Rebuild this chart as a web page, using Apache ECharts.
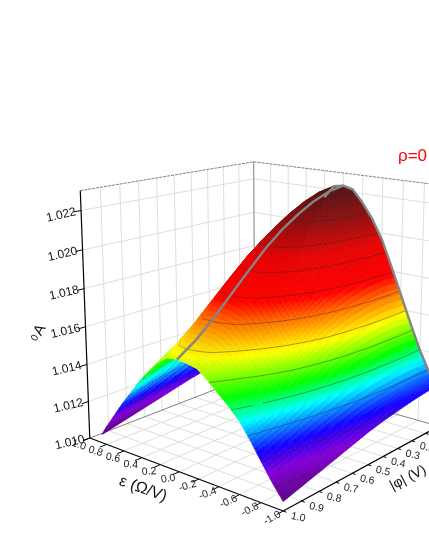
<!DOCTYPE html>
<html><head><meta charset="utf-8">
<style>html,body{margin:0;padding:0;background:#fff}#c{width:429px;height:555px}</style>
<script src="https://cdn.jsdelivr.net/npm/echarts@6/dist/echarts.min.js"></script>
</head><body><div id="c"></div>
<script>
// ---------- data ----------
const epsNodes=[0.85,0.8,0.6,0.4,0.2,0.1,0,-0.1,-0.2,-0.3,-0.4,-0.5,-0.6,-0.7,-0.8,-0.9,-1];
const phiNodes=[0,0.1,0.2,0.3,0.4,0.5,0.6,0.7,0.8,0.9,1];
const zPhi00=[1.01235,1.01325,1.01633,1.01912,1.0215,1.0222,1.0223,1.02215,1.0215,1.02071,1.01968,1.01828,1.01683,1.01536,1.01396,1.0128,1.01235];
const zPhi01=[1.0123,1.01319,1.01624,1.019,1.02136,1.02205,1.02215,1.02201,1.02141,1.02062,1.01962,1.01828,1.01689,1.01544,1.01403,1.01284,1.0123];
const zPhi02=[1.0122,1.01306,1.01604,1.01873,1.02103,1.0217,1.0218,1.02167,1.02113,1.02036,1.0194,1.01814,1.01682,1.01541,1.01402,1.01281,1.0122];
const zPhi03=[1.01205,1.01288,1.01575,1.01834,1.02056,1.02121,1.0213,1.02118,1.0207,1.01996,1.01904,1.01788,1.01665,1.01529,1.01393,1.01273,1.01205];
const zPhi04=[1.0119,1.01269,1.01542,1.01788,1.02,1.02061,1.0207,1.02059,1.02017,1.01947,1.01861,1.01755,1.01641,1.01512,1.01381,1.01263,1.0119];
const zPhi05=[1.0117,1.01244,1.015,1.01731,1.01929,1.01987,1.01995,1.01985,1.0195,1.01884,1.01804,1.01709,1.01606,1.01485,1.01361,1.01247,1.0117];
const zPhi06=[1.01145,1.01213,1.01449,1.01662,1.01844,1.01897,1.01905,1.01896,1.01867,1.01806,1.01734,1.0165,1.01558,1.01447,1.01331,1.01223,1.01145];
const zPhi07=[1.0112,1.01182,1.01396,1.01589,1.01755,1.01803,1.0181,1.01802,1.01779,1.01724,1.01659,1.01586,1.01506,1.01405,1.01299,1.01197,1.0112];
const zPhi08=[1.01095,1.01151,1.01343,1.01517,1.01665,1.01709,1.01715,1.01708,1.0169,1.01641,1.01583,1.01521,1.01451,1.01361,1.01264,1.0117,1.01095];
const zPhi09=[1.0107,1.0112,1.01294,1.01451,1.01585,1.01624,1.0163,1.01624,1.0161,1.01566,1.01515,1.01461,1.014,1.01319,1.0123,1.01143,1.0107];
const zPhi10=[1.01045,1.01092,1.01253,1.014,1.01524,1.01561,1.01566,1.01561,1.0155,1.01509,1.01462,1.01415,1.0136,1.01285,1.01201,1.01118,1.01045];
const zRows=[zPhi00,zPhi01,zPhi02,zPhi03,zPhi04,zPhi05,zPhi06,zPhi07,zPhi08,zPhi09,zPhi10];
const zTicks=[1.010,1.012,1.014,1.016,1.018,1.020,1.022];
const epsTicks=[1,0.8,0.6,0.4,0.2,0,-0.2,-0.4,-0.6,-0.8,-1];
const phiTicks=[1,0.9,0.8,0.7,0.6,0.5,0.4,0.3,0.2,0.1,0];
const contourLevels=[1.011,1.012,1.013,1.014,1.015,1.016,1.017,1.018,1.019,1.020,1.021,1.022];
const titleText='ρ=0', epsTitle='ε (Ω/V)', phiTitle='|φ| (V)';

// ---------- camera: solved from where the box corners fall in the picture ----------
const zMin=1.010,zMax=1.023;
const anchors=[[1,1,1.010,90,438.3],[1,1,1.023,80,190.7],[1,0,1.010,255,373],[1,0,1.023,253,162],
 [-1,1,1.010,284,510],[-1,0,1.010,438,428],[-1,0,1.023,445,185],[0,1,1.010,178,471],
 [-1,0.5,1.010,369,465],[1,0.5,1.023,175,175],[1,1,1.016,85,328],[0,0,1.023,345,173]];
const nz=z=>(z-1.0165)/0.0065;
function solveCamera(){
  const n=11,A=[...Array(n)].map(()=>Array(n+1).fill(0));
  const add=(r,b)=>{for(let i=0;i<n;i++){for(let j=0;j<n;j++)A[i][j]+=r[i]*r[j];A[i][n]+=r[i]*b;}};
  anchors.forEach(([e,p,z,u,v])=>{const Z=nz(z);
    add([e,p,Z,1,0,0,0,0,-u*e,-u*p,-u*Z],u);
    add([0,0,0,0,e,p,Z,1,-v*e,-v*p,-v*Z],v);});
  for(let c=0;c<n;c++){let m=c;for(let r=c+1;r<n;r++)if(Math.abs(A[r][c])>Math.abs(A[m][c]))m=r;
    [A[c],A[m]]=[A[m],A[c]];
    for(let r=0;r<n;r++)if(r!==c){const f=A[r][c]/A[c][c];for(let k=c;k<=n;k++)A[r][k]-=f*A[c][k];}}
  return A.map((R,i)=>R[n]/R[i]);
}
const P=solveCamera();
function project(e,p,z){const Z=nz(z),w=P[8]*e+P[9]*p+P[10]*Z+1;
  return [(P[0]*e+P[1]*p+P[2]*Z+P[3])/w,(P[4]*e+P[5]*p+P[6]*Z+P[7])/w];}

// ---------- colour ramp ----------
const ramp=[[1.0103,[90,0,120]],[1.0115,[130,0,215]],[1.0123,[20,0,255]],[1.0135,[0,255,255]],[1.0144,[0,255,0]],
 [1.0158,[255,255,0]],[1.0170,[255,110,0]],[1.0178,[255,0,0]],[1.0195,[230,5,5]],[1.0208,[150,15,15]],[1.0222,[85,20,20]]];
function colorOf(z){
  if(z<=ramp[0][0])return `rgb(${ramp[0][1]})`;
  for(let i=1;i<ramp.length;i++)if(z<=ramp[i][0]){const t=(z-ramp[i-1][0])/(ramp[i][0]-ramp[i-1][0]);
    const a=ramp[i-1][1],b=ramp[i][1];return `rgb(${a.map((x,k)=>Math.round(x+(b[k]-x)*t))})`;}
  return `rgb(${ramp[ramp.length-1][1]})`;
}

// ---------- drawing helpers ----------
const fontFam='"Liberation Sans",Arial,sans-serif';
const deg=Math.PI/180;
function seg(api,a,b,stroke,w,dash){
  const p=api.coord(project(...a)),q=api.coord(project(...b));
  return {type:'line',shape:{x1:p[0],y1:p[1],x2:q[0],y2:q[1]},style:{stroke,lineWidth:w,lineDash:dash||null}};
}
function label(api,pt,dx,dy,text,rot,size,fill){
  const c=api.coord(project(...pt));
  return {type:'text',x:c[0]+dx,y:c[1]+dy,rotation:rot*deg,
    style:{text,x:0,y:0,align:'center',verticalAlign:'middle',font:`${size}px ${fontFam}`,fill:fill||'#111'}};
}
function freeText(x,y,text,rot,size){
  return {type:'text',x,y,rotation:rot*deg,style:{text,x:0,y:0,align:'center',verticalAlign:'middle',font:`${size}px ${fontFam}`,fill:'#111'}};
}
function renderFrame(params,api){
  const L='#dedede',G='#808080',ch=[];
  phiTicks.forEach(p=>{ if(p>0&&p<1){ch.push(seg(api,[1,p,zMin],[1,p,zMax],L,1));
    ch.push(seg(api,[1,p,zMin],[-1,p,zMin],L,1));}});
  epsTicks.forEach(e=>{ if(e>-1&&e<1){ch.push(seg(api,[e,0,zMin],[e,0,zMax],L,1));
    ch.push(seg(api,[e,0,zMin],[e,1,zMin],L,1));}});
  zTicks.forEach(z=>{ if(z>zMin){ch.push(seg(api,[1,1,z],[1,0,z],L,1));ch.push(seg(api,[1,0,z],[-1,0,z],L,1));}});
  ch.push(seg(api,[1,0,zMin],[1,0,zMax],G,1));
  ch.push(seg(api,[1,1,zMin],[1,0,zMin],G,1));
  ch.push(seg(api,[1,0,zMin],[-1,0,zMin],G,1));
  ch.push(seg(api,[1,1,zMax],[1,0,zMax],G,1,[3,1]));
  ch.push(seg(api,[1,0,zMax],[-1,0,zMax],G,1,[3,1]));
  return {type:'group',children:ch};
}
function renderAxes(params,api){
  const K='#000',ch=[];
  ch.push(seg(api,[1,1,zMin],[1,1,zMax],K,1.2));
  ch.push(seg(api,[1,1,zMin],[-1,1,zMin],K,1.2));
  ch.push(seg(api,[-1,1,zMin],[-1,0,zMin],K,1.2));
  zTicks.forEach(z=>{ch.push(seg(api,[1,1,z],[1,1.035,z],K,1));
    ch.push(label(api,[1,1,z],-20,4.5,z.toFixed(3),13,12));});
  const eRot={'1':-18,'0.8':-18,'0.6':-12,'0.4':-5,'0.2':4,'0':9,'-0.2':15,'-0.4':20,'-0.6':24,'-0.8':27,'-1':30};
  epsTicks.forEach(e=>{ch.push(seg(api,[e,1,zMin],[e,1.035,zMin],K,1));
    ch.push(label(api,[e,1,zMin],-11,7,e.toFixed(1),eRot[String(e)],10.5,'#222'));});
  phiTicks.forEach(p=>{ch.push(seg(api,[-1,p,zMin],[-1.03,p,zMin],K,1));
    ch.push(label(api,[-1,p,zMin],15,6.5,p.toFixed(1),-12,10.5,'#222'));});
  ch.push(freeText(143,489,epsTitle,-20,16));
  ch.push(freeText(408,478,phiTitle,27,14));
  ch.push(freeText(40,330,'A',60,15));
  ch.push(freeText(35,338,'0',60,10));
  return {type:'group',children:ch};
}
const SUB=5;
function cellInfo(i,j){
  const p0=phiNodes[i],p1=phiNodes[i+1],e0=epsNodes[j],e1=epsNodes[j+1];
  const a=zRows[i][j],b=zRows[i][j+1],c=zRows[i+1][j],d=zRows[i+1][j+1];
  const Zf=(u,v)=>(a*(1-u)+b*u)*(1-v)+(c*(1-u)+d*u)*v;
  return (u,v)=>[e0+(e1-e0)*u,p0+(p1-p0)*v,Zf(u,v)];
}
function contourBits(api,corners,ch){
  contourLevels.forEach(L=>{
    const hits=[];
    for(let k=0;k<4;k++){const A=corners[k],B=corners[(k+1)%4];
      if((A[2]-L)*(B[2]-L)<0){const t=(L-A[2])/(B[2]-A[2]);
        hits.push(api.coord(project(A[0]+(B[0]-A[0])*t,A[1]+(B[1]-A[1])*t,L)));}}
    if(hits.length>=2)ch.push({type:'line',shape:{x1:hits[0][0],y1:hits[0][1],x2:hits[1][0],y2:hits[1][1]},
      style:{stroke:'rgba(40,40,40,0.6)',lineWidth:0.7}});
  });
}
function quad(W,m,n){const u0=n/SUB,u1=(n+1)/SUB,v0=m/SUB,v1=(m+1)/SUB;
  return [W(u0,v0),W(u1,v0),W(u1,v1),W(u0,v1)];}
function renderCell(params,api){
  const i=api.value(0),j=api.value(1),ch=[],W=cellInfo(i,j),far=epsNodes[j]>0;
  for(let m=0;m<SUB;m++)for(let n=0;n<SUB;n++){
    const corners=quad(W,m,n);
    const pts=corners.map(q=>api.coord(project(...q)));
    const col=colorOf((corners[0][2]+corners[1][2]+corners[2][2]+corners[3][2])/4);
    ch.push({type:'polygon',shape:{points:pts},style:{fill:col,stroke:col,lineWidth:0.7}});
    if(far)contourBits(api,corners,ch);
  }
  return {type:'group',children:ch};
}
// the slope facing the viewer is never hidden, so its contour lines can go on top
function renderNearContours(params,api){
  const i=api.value(0),j=api.value(1),ch=[],W=cellInfo(i,j);
  if(epsNodes[j]>0)return {type:'group',children:ch};
  for(let m=0;m<SUB;m++)for(let n=0;n<SUB;n++)contourBits(api,quad(W,m,n),ch);
  return {type:'group',children:ch};
}
function renderRidge(params,api){
  const k0=epsNodes.indexOf(0);
  const ridge=phiNodes.map((p,i)=>api.coord(project(0,p,zRows[i][k0])));
  const edge=[];
  epsNodes.forEach((e,j)=>{if(e<=0.2&&e>=-0.9)edge.push(api.coord(project(e,0,zRows[0][j])));});
  const st={stroke:'#858585',lineWidth:2.4,fill:null,lineJoin:'round'};
  return {type:'group',children:[
    {type:'polyline',shape:{points:ridge},style:st},
    {type:'polyline',shape:{points:edge},style:st}]};
}
const cells=[];
for(let i=0;i<phiNodes.length-1;i++)for(let j=0;j<epsNodes.length-1;j++)cells.push([i,j]);

const chart=echarts.init(document.getElementById('c'),null,{renderer:'canvas'});
chart.setOption({
  animation:false,backgroundColor:'#fff',
  title:{text:titleText,left:393,top:143,textStyle:{color:'#f00',fontSize:17,fontWeight:'normal',fontFamily:fontFam}},
  grid:{left:0,right:0,top:0,bottom:0},
  xAxis:{type:'value',min:0,max:429,show:false},
  yAxis:{type:'value',min:0,max:555,inverse:true,show:false},
  series:[
    {type:'custom',coordinateSystem:'cartesian2d',silent:true,clip:false,renderItem:renderFrame,data:[[0,0]],z:1},
    {type:'custom',coordinateSystem:'cartesian2d',silent:true,clip:false,renderItem:renderAxes,data:[[0,0]],z:2},
    {type:'custom',coordinateSystem:'cartesian2d',silent:true,clip:false,renderItem:renderCell,data:cells,z:3,progressive:0,encode:{x:0,y:1}},
    {type:'custom',coordinateSystem:'cartesian2d',silent:true,clip:false,renderItem:renderNearContours,data:cells,z:4,progressive:0,encode:{x:0,y:1}},
    {type:'custom',coordinateSystem:'cartesian2d',silent:true,clip:false,renderItem:renderRidge,data:[[0,0]],z:5}
  ]
});
</script></body></html>
